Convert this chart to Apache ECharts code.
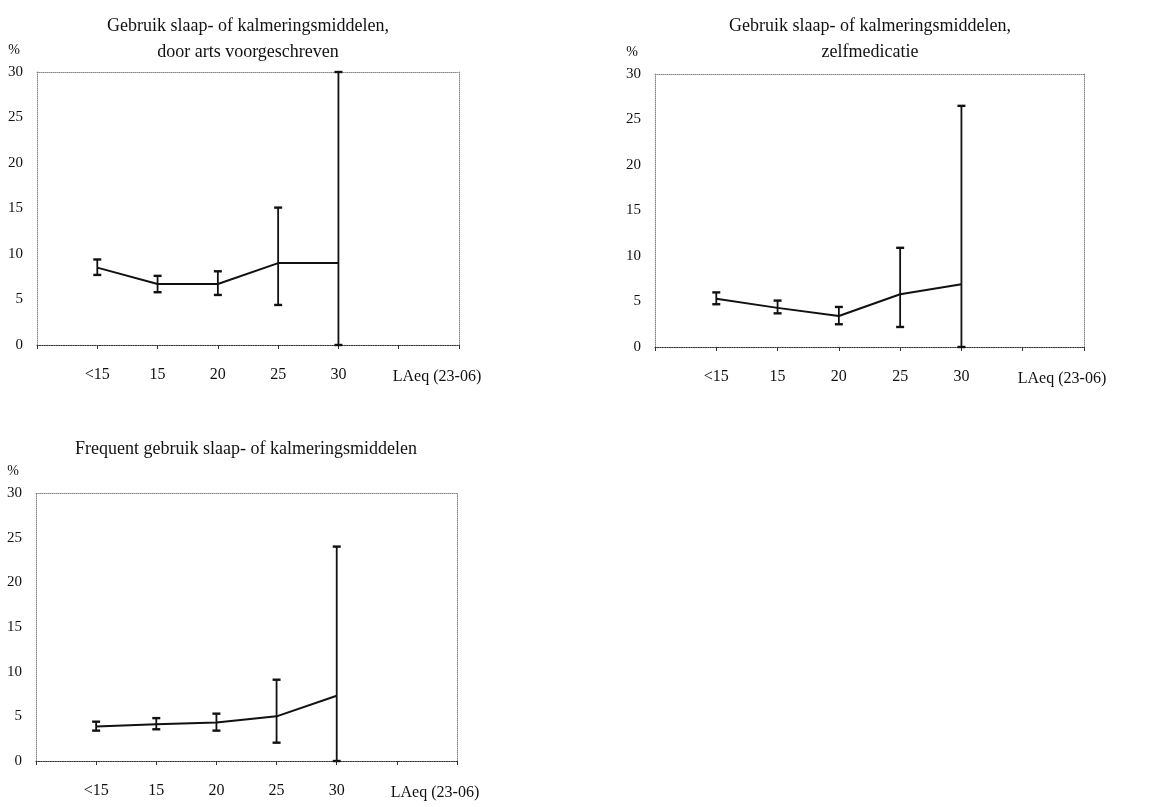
<!DOCTYPE html>
<html>
<head>
    <meta charset="utf-8">
    <title></title>
    <script src="https://cdn.jsdelivr.net/npm/echarts@6/dist/echarts.min.js"></script>
    <style>
        body{ margin: 0; background: #fff; }
        #main{ width: 1162px; height: 807px; }
    </style>
</head>
<body>
<div id="main"></div>
<script>
    // categorie-as (eerste en laatste twee plaatsen zijn leeg)
    var xLabels = ['', '<15', '15', '20', '25', '30', '', ''];

    // door arts voorgeschreven
    var artsMean = [8.5, 6.7, 6.7, 9.0, 9.0];
    var artsLow  = [7.7, 5.8, 5.5, 4.4, 0];
    var artsHigh = [9.4, 7.6, 8.1, 15.1, 30];

    // zelfmedicatie
    var zelfMean = [5.3, 4.3, 3.4, 5.8, 6.9];
    var zelfLow  = [4.7, 3.7, 2.5, 2.2, 0];
    var zelfHigh = [6.0, 5.1, 4.4, 10.9, 26.5];

    // frequent gebruik
    var freqMean = [3.85, 4.1, 4.3, 5.0, 7.3];
    var freqLow  = [3.4, 3.55, 3.4, 2.05, 0];
    var freqHigh = [4.4, 4.8, 5.3, 9.1, 24.0];

    var titles = [
        'Gebruik slaap- of kalmeringsmiddelen,\ndoor arts voorgeschreven',
        'Gebruik slaap- of kalmeringsmiddelen,\nzelfmedicatie',
        'Frequent gebruik slaap- of kalmeringsmiddelen'
    ];
    var xName = 'LAeq (23-06)';
    var yName = '%';

    var font = '"Liberation Serif", "DejaVu Serif", serif';
    var ink = '#111';

    var grids = [
        {left: 37, top: 72, width: 422, height: 273},
        {left: 655, top: 74, width: 429, height: 273},
        {left: 36, top: 493, width: 421, height: 268}
    ];
    var titlePos = [
        {left: 243, top: 8},
        {left: 865, top: 8},
        {left: 241, top: 431}
    ];
    var panels = [
        [artsMean, artsLow, artsHigh],
        [zelfMean, zelfLow, zelfHigh],
        [freqMean, freqLow, freqHigh]
    ];

    function renderErr(params, api) {
        var x = api.value(0);
        var top = api.coord([x, api.value(2)]);
        var bot = api.coord([x, api.value(1)]);
        var w = 4;
        var st = {stroke: ink, lineWidth: 1.8};
        var cap = {stroke: ink, lineWidth: 2.4};
        return {
            type: 'group',
            children: [
                {type: 'line', shape: {x1: top[0], y1: top[1], x2: bot[0], y2: bot[1]}, style: st},
                {type: 'line', shape: {x1: top[0] - w, y1: top[1], x2: top[0] + w, y2: top[1]}, style: cap},
                {type: 'line', shape: {x1: bot[0] - w, y1: bot[1], x2: bot[0] + w, y2: bot[1]}, style: cap}
            ]
        };
    }

    var title = [], xAxis = [], yAxis = [], series = [];
    for (var p = 0; p < 3; p++) {
        title.push({
            text: titles[p],
            left: titlePos[p].left,
            top: titlePos[p].top,
            textAlign: 'center',
            textStyle: {fontFamily: font, fontWeight: 'normal', fontSize: 18, color: ink, lineHeight: 26}
        });
        // onderas
        xAxis.push({
            gridIndex: p,
            type: 'category',
            data: xLabels,
            boundaryGap: false,
            position: 'bottom',
            axisLine: {lineStyle: {color: '#333', type: 'dotted', width: 1.2}},
            axisTick: {show: true, length: 4, interval: 0, lineStyle: {color: '#333'}},
            axisLabel: {interval: 0, margin: 22, fontFamily: font, fontSize: 16, color: ink},
            name: xName,
            nameLocation: 'end',
            nameGap: -22,
            nameTextStyle: {fontFamily: font, fontSize: 16, color: ink, align: 'center', verticalAlign: 'top', padding: [24, 0, 0, 0]},
            splitLine: {show: false}
        });
        // bovenrand van het kader
        xAxis.push({
            gridIndex: p,
            type: 'value',
            position: 'top',
            min: 0, max: 1,
            axisLine: {show: true, onZero: false, lineStyle: {color: '#888', type: 'dotted'}},
            axisTick: {show: false},
            axisLabel: {show: false},
            splitLine: {show: false}
        });
        yAxis.push({
            gridIndex: p,
            type: 'value',
            min: 0, max: 30, interval: 5,
            axisLine: {show: true, lineStyle: {color: '#888', type: 'dotted'}},
            axisTick: {show: false},
            axisLabel: {margin: 14, fontFamily: font, fontSize: 15, color: ink},
            splitLine: {show: false},
            name: yName,
            nameLocation: 'end',
            nameGap: 15,
            nameTextStyle: {fontFamily: font, fontSize: 14, color: ink, align: 'right', padding: [0, 17, 0, 0]}
        });
        // rechterrand van het kader
        yAxis.push({
            gridIndex: p,
            type: 'value',
            position: 'right',
            min: 0, max: 1,
            axisLine: {show: true, onZero: false, lineStyle: {color: '#888', type: 'dotted'}},
            axisTick: {show: false},
            axisLabel: {show: false},
            splitLine: {show: false}
        });

        var mean = panels[p][0], low = panels[p][1], high = panels[p][2];
        var lineData = [], errData = [];
        for (var i = 0; i < mean.length; i++) {
            lineData.push([i + 1, mean[i]]);
            errData.push([i + 1, low[i], high[i]]);
        }
        series.push({
            type: 'line',
            xAxisIndex: 2 * p,
            yAxisIndex: 2 * p,
            data: lineData,
            showSymbol: false,
            lineStyle: {color: ink, width: 2},
            z: 3
        });
        series.push({
            type: 'custom',
            xAxisIndex: 2 * p,
            yAxisIndex: 2 * p,
            renderItem: renderErr,
            encode: {x: 0, y: [1, 2]},
            data: errData,
            clip: false,
            z: 4
        });
    }

    var chart = echarts.init(document.getElementById('main'));
    chart.setOption({
        animation: false,
        backgroundColor: '#fff',
        textStyle: {fontFamily: font},
        title: title,
        grid: grids,
        xAxis: xAxis,
        yAxis: yAxis,
        series: series
    });
</script>
</body>
</html>
